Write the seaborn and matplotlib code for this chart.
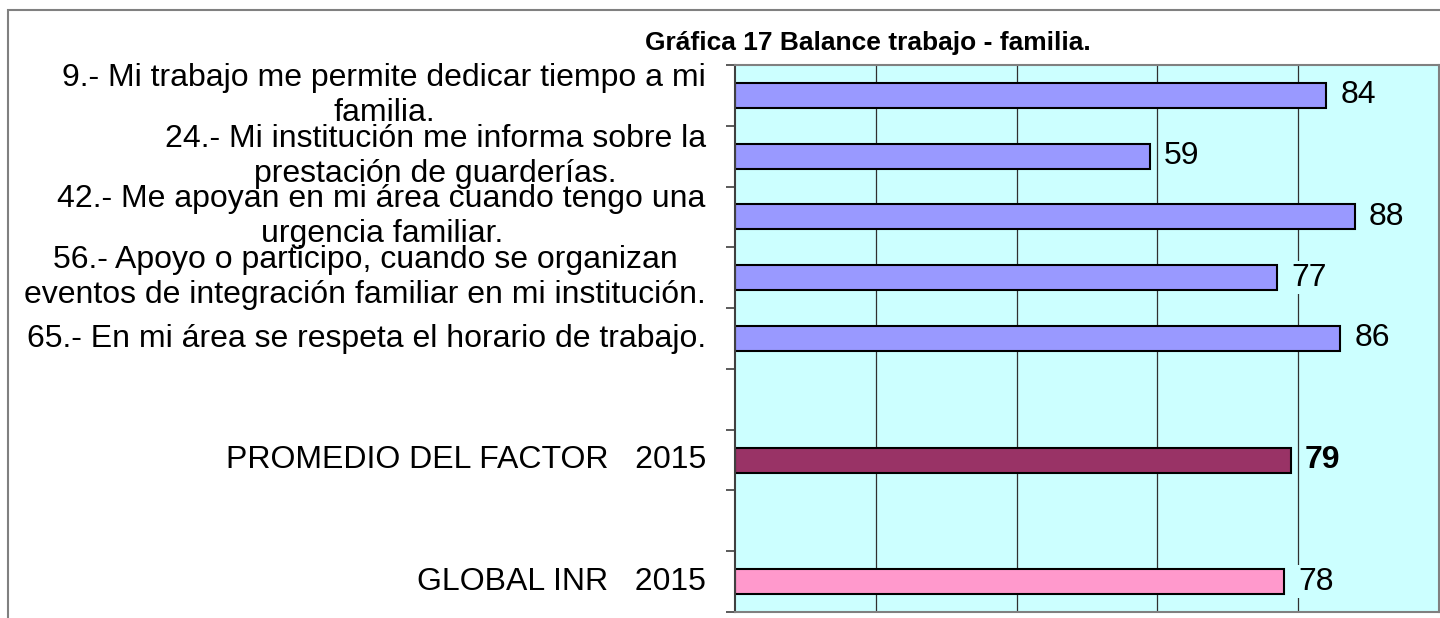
import matplotlib
matplotlib.use("Agg")
import matplotlib.pyplot as plt
import matplotlib.patches as mpatches
import seaborn as sns
import numpy as np
import pandas as pd

# Data
items = [
    "9.- Mi trabajo me permite dedicar tiempo a mi\nfamilia.",
    "24.- Mi institución me informa sobre la\nprestación de guarderías.",
    "42.- Me apoyan en mi área cuando tengo una\nurgencia familiar.",
    "56.- Apoyo o participo, cuando se organizan\neventos de integración familiar en mi institución.",
    "65.- En mi área se respeta el horario de trabajo.",
    "PROMEDIO DEL FACTOR   2015",
    "GLOBAL INR   2015",
]
values = [84, 59, 88, 77, 86, 79, 78]
bar_colors = ["#9999FF", "#9999FF", "#9999FF", "#9999FF", "#9999FF", "#993366", "#FF99CC"]
# empty slots between groups
order = items[:5] + [""] + [items[5]] + [" "] + [items[6]]

sns.set_style("white")
plt.rcParams["font.family"] = ["Liberation Sans", "DejaVu Sans"]
plt.rcParams["text.color"] = "black"
plt.rcParams["xtick.color"] = "black"
plt.rcParams["ytick.color"] = "black"

df = pd.DataFrame({"item": items, "value": values})

fig = plt.figure(figsize=(14.4, 6.18), dpi=100)
ax = fig.add_axes([735 / 1440, 1 - 612 / 618, 704 / 1440, 547 / 618])
ax.set_facecolor("#CCFFFF")

sns.barplot(data=df, y="item", x="value", hue="item", order=order,
            hue_order=items, palette=dict(zip(items, bar_colors)),
            saturation=1, width=0.41, edgecolor="black", linewidth=1.5,
            dodge=False, legend=False, ax=ax)

ax.set_xlim(0, 100)
ax.set_ylim(8.5, -0.5)
ax.set_xticks([20, 40, 60, 80])
ax.set_xticklabels([])
ax.tick_params(axis="x", length=0)
ax.grid(axis="x", color="#303030", lw=0.9)
ax.set_axisbelow(True)
ax.set_xlabel("")
ax.set_ylabel("")

# category labels at centers, tick marks at boundaries
ax.set_yticks(range(len(order)))
ax.set_yticklabels(order, fontsize=23, multialignment="center", va="center",
                   linespacing=1.22, color="black")
ax.tick_params(axis="y", which="major", length=0, pad=21)
ax.set_yticks(np.arange(-0.5, len(order), 1), minor=True)
ax.tick_params(axis="y", which="minor", length=6.5, width=1.2, color="#404040", left=True)

for side in ["top", "right", "bottom"]:
    ax.spines[side].set_color("#808080")
    ax.spines[side].set_linewidth(1.5)
ax.spines["left"].set_color("#404040")
ax.spines["left"].set_linewidth(1.5)

# value labels
for cont, item in zip(ax.containers, items):
    bold = item.startswith("PROMEDIO")
    ax.bar_label(cont, fmt="%d", padding=10, fontsize=23, color="black",
                 fontweight="bold" if bold else "normal",
                 bbox=dict(facecolor="#CCFFFF", edgecolor="none", pad=1))

fig.text(645 / 1440, 1 - 43 / 618, "Gráfica 17 Balance trabajo - familia.",
         fontsize=19, fontweight="bold", ha="left", va="center", color="black")

# outer frame of the chart area
fig.patches.append(mpatches.Rectangle((8 / 1440, -0.1), 1.2, 1.1 - 10 / 618,
                                      transform=fig.transFigure, fill=False,
                                      edgecolor="#808080", lw=1.5))

fig.savefig("out.png", dpi=100)
